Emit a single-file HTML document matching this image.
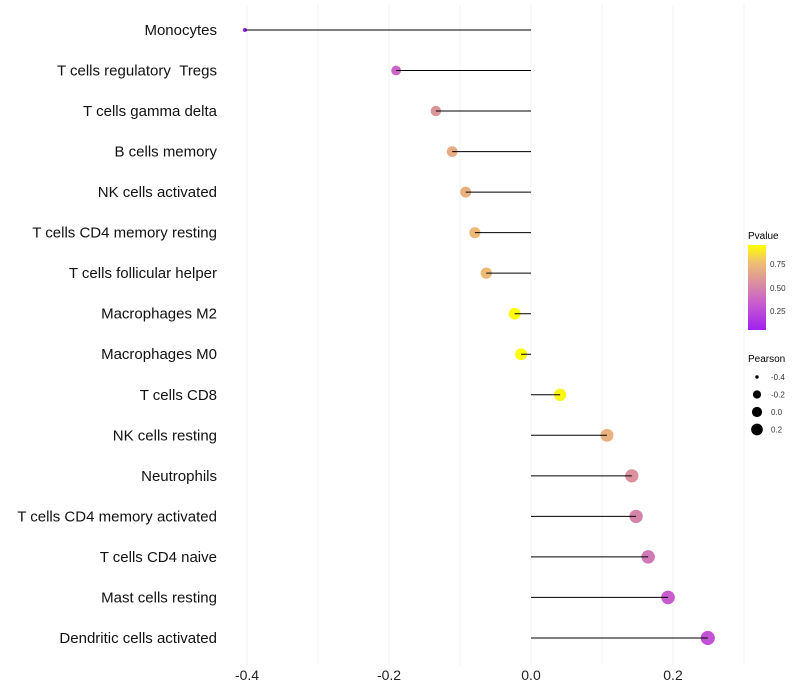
<!DOCTYPE html>
<html><head><meta charset="utf-8"><style>body{margin:0;background:#fff}svg{display:block;font-family:"Liberation Sans",sans-serif}</style></head>
<body>
<svg id="chart" width="800" height="700" viewBox="0 0 800 700" xmlns="http://www.w3.org/2000/svg">
<g id="grid"></g>
<g id="marks"></g>
<g id="ylabels"></g>
<g id="xlabels"></g>
<g id="legend">
<defs><linearGradient id="pg" x1="0" y1="1" x2="0" y2="0">
<stop offset="0" stop-color="#a020f0"/><stop offset="0.3" stop-color="#c65ad0"/><stop offset="0.55" stop-color="#d98ea0"/><stop offset="0.8" stop-color="#efc070"/><stop offset="1" stop-color="#ffff00"/></linearGradient></defs>
<text x="748" y="239" font-size="10">Pvalue</text>
<rect x="748" y="245" width="18" height="85" fill="url(#pg)"/>
<g font-size="8" fill="#333"><text x="770" y="267">0.75</text><text x="770" y="291">0.50</text><text x="770" y="314">0.25</text></g>
<text x="748" y="362" font-size="10">Pearson</text>
<g id="sizeleg"></g>
</g>
</svg>
<script>
const cells=["Monocytes","T cells regulatory \u00a0Tregs","T cells gamma delta","B cells memory","NK cells activated","T cells CD4 memory resting","T cells follicular helper","Macrophages M2","Macrophages M0","T cells CD8","NK cells resting","Neutrophils","T cells CD4 memory activated","T cells CD4 naive","Mast cells resting","Dendritic cells activated"];
const pearson=[-0.403,-0.190,-0.134,-0.111,-0.092,-0.079,-0.063,-0.023,-0.014,0.041,0.107,0.142,0.148,0.165,0.193,0.249];
const pvalue=[0.03,0.36,0.58,0.68,0.70,0.74,0.74,0.95,0.95,0.92,0.70,0.55,0.50,0.45,0.33,0.28];
const xTicks=[-0.4,-0.2,0.0,0.2];
const gridTicks=[-0.4,-0.3,-0.2,-0.1,0,0.1,0.2,0.3];
const sizeLegend=[-0.4,-0.2,0.0,0.2];
const NS="http://www.w3.org/2000/svg";
const xs=v=>531+v*710;
const ys=i=>30+i*40.53;
const rs=v=>2+Math.sqrt(Math.max(0,v+0.4))*6.3;
function col(p){const stops=[[0,[160,32,240]],[0.3,[198,90,208]],[0.55,[217,142,160]],[0.8,[239,192,112]],[1,[255,255,0]]];
 const t=Math.max(0,Math.min(1,(p-0.046)/(0.95-0.046)));
 for(let k=1;k<stops.length;k++){if(t<=stops[k][0]){const a=stops[k-1],b=stops[k],f=(t-a[0])/(b[0]-a[0]);return "rgb("+a[1].map((c,j)=>Math.round(c+(b[1][j]-c)*f)).join(",")+")";}}return "rgb(255,255,0)";}
function mk(tag,at,par){const e=document.createElementNS(NS,tag);for(const k in at)e.setAttribute(k,at[k]);document.getElementById(par).appendChild(e);return e;}
gridTicks.forEach(t=>{const l=mk("line",{x1:xs(t),x2:xs(t),y1:5,y2:665,stroke:"#f0f0f0","stroke-width":1},"grid");

});
xTicks.forEach(t=>{const e=mk("text",{x:xs(t),y:680,"font-size":14,"text-anchor":"middle",fill:"#222"},"xlabels");e.textContent=t.toFixed(1);

});
cells.forEach((c,i)=>{
 const y=ys(i),x=xs(pearson[i]);
 const d=mk("circle",{cx:x,cy:y,r:rs(pearson[i]),fill:col(pvalue[i])},"marks");
 
 
 const l=mk("line",{x1:xs(0),x2:x,y1:y,y2:y,stroke:"#000","stroke-width":1},"marks");
 
 
 const t=mk("text",{x:217,y:y+5,"font-size":15,"text-anchor":"end",fill:"#111"},"ylabels");t.textContent=c;
 
 
});
sizeLegend.forEach((v,i)=>{const y=377+i*17.5;
 const c=mk("circle",{cx:757,cy:y,r:rs(v)*0.85,fill:"#000"},"sizeleg");
 
 
 const t=mk("text",{x:771,y:y+3,"font-size":8,fill:"#333"},"sizeleg");t.textContent=v.toFixed(1);
 
 });
</script>
</body></html>
